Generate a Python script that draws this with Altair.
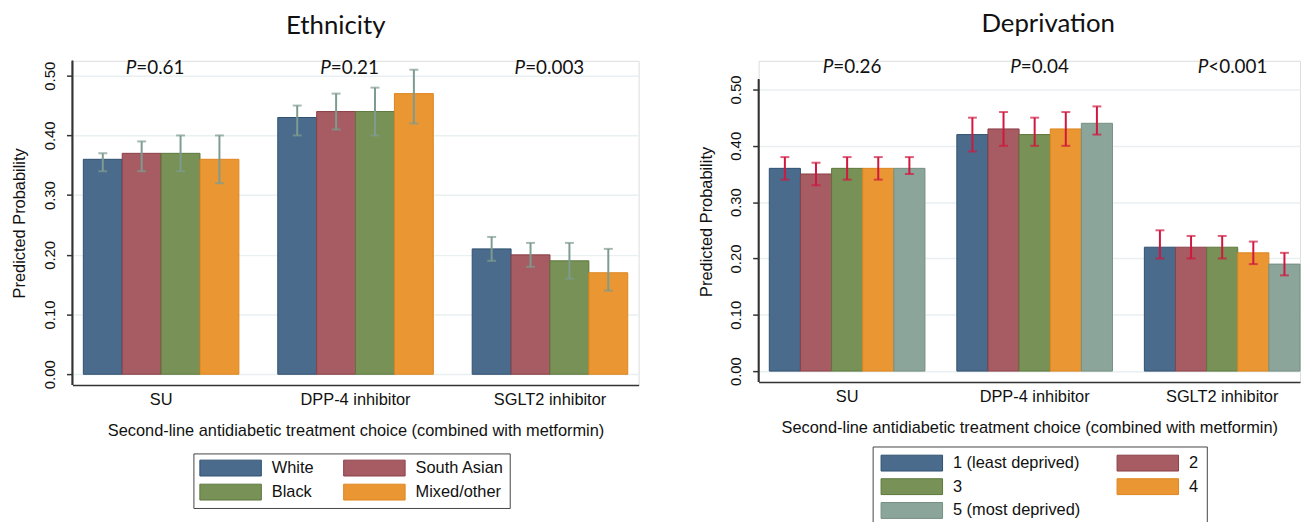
import altair as alt
import pandas as pd

treatments = ["SU", "DPP-4 inhibitor", "SGLT2 inhibitor"]

# ---- Ethnicity panel ----
eth_groups = ["White", "South Asian", "Black", "Mixed/other"]
eth_su_est = [0.36, 0.37, 0.37, 0.36]
eth_su_lo = [0.34, 0.34, 0.34, 0.32]
eth_su_hi = [0.37, 0.39, 0.40, 0.40]
eth_dpp_est = [0.43, 0.44, 0.44, 0.47]
eth_dpp_lo = [0.40, 0.41, 0.40, 0.42]
eth_dpp_hi = [0.45, 0.47, 0.48, 0.51]
eth_sglt2_est = [0.21, 0.20, 0.19, 0.17]
eth_sglt2_lo = [0.19, 0.18, 0.16, 0.14]
eth_sglt2_hi = [0.23, 0.22, 0.22, 0.21]
eth_p_values = ["=0.61", "=0.21", "=0.003"]

# ---- Deprivation panel ----
dep_groups = ["1 (least deprived)", "2", "3", "4", "5 (most deprived)"]
dep_su_est = [0.36, 0.35, 0.36, 0.36, 0.36]
dep_su_lo = [0.34, 0.33, 0.34, 0.34, 0.35]
dep_su_hi = [0.38, 0.37, 0.38, 0.38, 0.38]
dep_dpp_est = [0.42, 0.43, 0.42, 0.43, 0.44]
dep_dpp_lo = [0.39, 0.40, 0.40, 0.40, 0.42]
dep_dpp_hi = [0.45, 0.46, 0.45, 0.46, 0.47]
dep_sglt2_est = [0.22, 0.22, 0.22, 0.21, 0.19]
dep_sglt2_lo = [0.20, 0.20, 0.20, 0.19, 0.17]
dep_sglt2_hi = [0.25, 0.24, 0.24, 0.23, 0.21]
dep_p_values = ["=0.26", "=0.04", "<0.001"]

tick_values = [0.0, 0.1, 0.2, 0.3, 0.4, 0.5]

eth_colors = ["#4a6b8c", "#a65c62", "#789156", "#ea9633"]
eth_strokes = ["#30506f", "#8b4048", "#5c763c", "#de861f"]
dep_colors = ["#4a6b8c", "#a65c62", "#789156", "#ea9633", "#8ca59a"]
dep_strokes = ["#30506f", "#8b4048", "#5c763c", "#de861f", "#74907f"]

FONT = "Liberation Sans"
PFONT = "Lato"
AX = "#333333"
# wide swatch drawn to the right of a small nominal symbol
SWATCH = "M-1,-1L6.75,-1L6.75,1L-1,1Z"
X_TITLE = "Second-line antidiabetic treatment choice (combined with metformin)"


def build_df(groups, est, lo, hi):
    rows = []
    for t, e_list, l_list, h_list in zip(treatments, est, lo, hi):
        for g, e, l, h in zip(groups, e_list, l_list, h_list):
            rows.append({"treatment": t, "group": g, "est": e, "lo": l, "hi": h})
    return pd.DataFrame(rows)


def make_panel(df, pvals, groups, colors, strokes, err_color, ydom, axis_top,
               ptext_y, p_dx, w, h, xscale, title_txt, title_dx, lx, ly,
               col_pad, row_pad, leg_pad):
    pdf = pd.DataFrame({"treatment": treatments, "p": pvals, "P": ["P"] * len(pvals)})

    x_axis = alt.Axis(title=X_TITLE, labelAngle=0, ticks=False, domainColor=AX,
                      domainWidth=1.5, labelFont=FONT, labelFontSize=16.5,
                      labelColor="#111", labelPadding=7, titleFont=FONT,
                      titleFontSize=16.5, titleFontWeight="normal",
                      titleColor="#111", titlePadding=14, grid=False)
    x_enc = alt.X("treatment:N", sort=treatments, scale=xscale, axis=x_axis)
    xoff = alt.XOffset("group:N", sort=groups,
                       scale=alt.Scale(paddingInner=0, paddingOuter=0))
    y_scale = alt.Scale(domain=ydom, nice=False, zero=False)
    y_axis = alt.Axis(title="Predicted Probability", values=tick_values,
                      format=".2f", labelAngle=270, domain=False,
                      tickColor=AX, tickWidth=1.5, tickSize=6,
                      grid=True, gridColor="#e8f0f2", gridWidth=1.5,
                      labelFont=FONT, labelFontSize=15, labelColor="#111",
                      labelPadding=9, titleFont=FONT, titleFontSize=16.5,
                      titleFontWeight="normal", titleColor="#111",
                      titlePadding=15)

    bars = alt.Chart(df).mark_bar(strokeWidth=1).encode(
        x=x_enc,
        xOffset=xoff,
        y=alt.Y("est:Q", scale=y_scale, axis=y_axis),
        y2=alt.datum(0),
        fill=alt.Fill("group:N", sort=groups,
                      scale=alt.Scale(domain=groups, range=colors),
                      legend=alt.Legend(orient="none", legendX=lx, legendY=ly,
                                        columns=2, direction="horizontal",
                                        title=None,
                                        symbolType=SWATCH, symbolSize=256,
                                        symbolStrokeColor="rgba(0,0,0,0.3)",
                                        symbolStrokeWidth=1, symbolOpacity=1,
                                        labelFont=FONT, labelFontSize=16.5,
                                        labelColor="#111", labelOffset=56,
                                        columnPadding=col_pad,
                                        rowPadding=row_pad, padding=leg_pad,
                                        strokeColor="#444", fillColor="white")),
        stroke=alt.Stroke("group:N", sort=groups,
                          scale=alt.Scale(domain=groups, range=strokes),
                          legend=None),
    )
    y_line = alt.Chart(pdf).mark_rule(color=AX, strokeWidth=1.5).encode(
        x=alt.value(0), y=alt.datum(ydom[0]), y2=alt.datum(axis_top),
    )
    rules = alt.Chart(df).mark_rule(color=err_color, strokeWidth=2).encode(
        x=x_enc, xOffset=xoff,
        y=alt.Y("lo:Q", scale=y_scale, axis=y_axis), y2="hi:Q",
    )
    cap_lo = alt.Chart(df).mark_tick(color=err_color, thickness=2, size=9).encode(
        x=x_enc, xOffset=xoff, y=alt.Y("lo:Q", scale=y_scale, axis=y_axis),
    )
    cap_hi = alt.Chart(df).mark_tick(color=err_color, thickness=2, size=9).encode(
        x=x_enc, xOffset=xoff, y=alt.Y("hi:Q", scale=y_scale, axis=y_axis),
    )
    p_italic = alt.Chart(pdf).mark_text(
        font=PFONT, fontSize=19, fontStyle="italic", align="right",
        baseline="middle", dx=p_dx, color="#111"
    ).encode(x=x_enc, y=alt.datum(ptext_y), text="P:N")
    p_rest = alt.Chart(pdf).mark_text(
        font=PFONT, fontSize=19, align="left", baseline="middle", dx=p_dx,
        color="#111"
    ).encode(x=x_enc, y=alt.datum(ptext_y), text="p:N")

    return alt.layer(bars, y_line, rules, cap_lo, cap_hi, p_italic, p_rest).properties(
        width=w, height=h,
        title=alt.TitleParams(title_txt, font=PFONT, fontSize=26,
                              fontWeight="normal", color="#111",
                              anchor="middle", frame="group", offset=20.5,
                              dx=title_dx),
    )


eth_df = build_df(eth_groups,
                  [eth_su_est, eth_dpp_est, eth_sglt2_est],
                  [eth_su_lo, eth_dpp_lo, eth_sglt2_lo],
                  [eth_su_hi, eth_dpp_hi, eth_sglt2_hi])
dep_df = build_df(dep_groups,
                  [dep_su_est, dep_dpp_est, dep_sglt2_est],
                  [dep_su_lo, dep_dpp_lo, dep_sglt2_lo],
                  [dep_su_hi, dep_dpp_hi, dep_sglt2_hi])

left = make_panel(
    eth_df, eth_p_values, eth_groups, eth_colors, eth_strokes, "#7d9b90",
    ydom=[-0.018, 0.525], axis_top=0.525, ptext_y=0.5125, p_dx=-25,
    w=571, h=327,
    xscale=alt.Scale(paddingInner=0.2, paddingOuter=0.056),
    title_txt="Ethnicity", title_dx=-20, lx=122, ly=396, col_pad=27,
    row_pad=3.5, leg_pad=6,
)
right = make_panel(
    dep_df, dep_p_values, dep_groups, dep_colors, dep_strokes, "#d0183f",
    ydom=[-0.0194, 0.551], axis_top=0.518, ptext_y=0.5405, p_dx=-14,
    w=546, h=324,
    xscale=alt.Scale(paddingInner=0.17, paddingOuter=0.0285, align=1),
    title_txt="Deprivation", title_dx=19, lx=115, ly=389, col_pad=34,
    row_pad=3, leg_pad=8,
)

chart = alt.hconcat(left, right, spacing=58).resolve_scale(
    color="independent", fill="independent", stroke="independent",
    x="independent", y="independent", xOffset="independent"
).properties(
    padding={"left": 3, "top": 0, "right": 0, "bottom": 0}
).configure_view(stroke=None).configure(background="white")

chart.save("out.html", embed_options={"renderer": "svg", "actions": False})
